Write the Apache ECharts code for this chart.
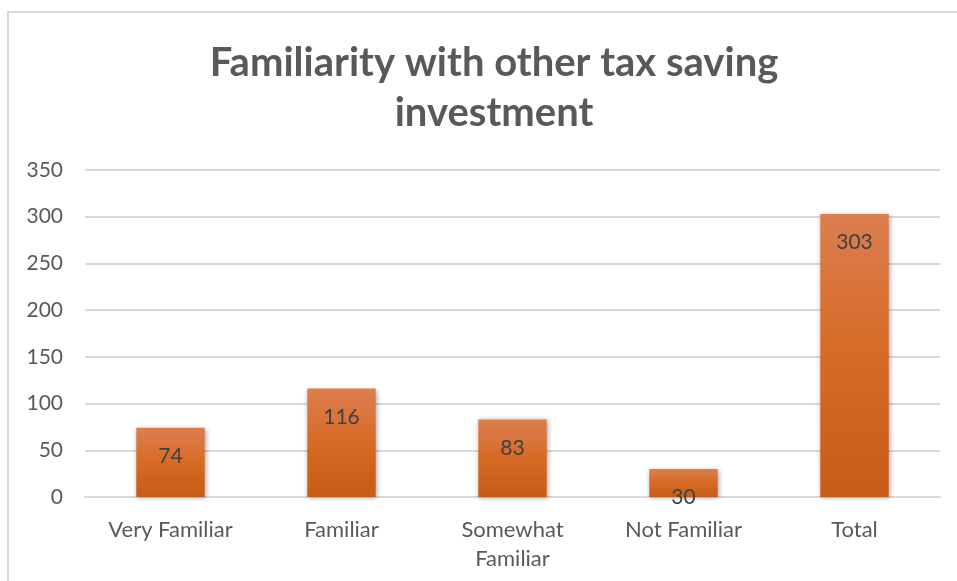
<!DOCTYPE html>
<html>
<head>
<meta charset="utf-8">
<script src="https://cdn.jsdelivr.net/npm/echarts@6/dist/echarts.min.js"></script>
<style>
  html, body { margin: 0; padding: 0; background: #fff; }
  #chart { width: 957px; height: 581px; }
</style>
</head>
<body>
<div id="chart"></div>
<script>
var categories = ['Very Familiar', 'Familiar', 'Somewhat\nFamiliar', 'Not Familiar', 'Total'];
var counts = [74, 116, 83, 30, 303];
var yTicks = [0, 50, 100, 150, 200, 250, 300, 350];

var chart = echarts.init(document.getElementById('chart'));
var fontName = 'Lato, "Open Sans", sans-serif';

var barColor = new echarts.graphic.LinearGradient(0, 0, 0, 1, [
    { offset: 0, color: '#DB7E51' },
    { offset: 0.5, color: '#D76A25' },
    { offset: 1, color: '#C65C15' }
]);

chart.setOption({
    animation: false,
    backgroundColor: '#fff',
    title: {
        text: 'Familiarity with other tax saving\ninvestment',
        left: 489,
        textAlign: 'center',
        top: 33,
        textStyle: {
            fontFamily: fontName,
            fontSize: 40,
            fontWeight: 'bold',
            color: '#595959',
            lineHeight: 50
        }
    },
    graphic: [{
        type: 'rect',
        shape: { x: 8, y: 12, width: 980, height: 620 },
        style: { fill: 'none', stroke: '#d9d9d9', lineWidth: 2 },
        silent: true
    }],
    grid: { left: 85, right: 17, top: 170, bottom: 84 },
    xAxis: {
        type: 'category',
        data: categories,
        axisLine: { lineStyle: { color: '#d9d9d9', width: 2 } },
        axisTick: { show: false },
        axisLabel: {
            color: '#595959',
            fontFamily: fontName,
            fontSize: 22,
            lineHeight: 29,
            margin: 18
        }
    },
    yAxis: {
        type: 'value',
        min: yTicks[0],
        max: yTicks[yTicks.length - 1],
        interval: 50,
        axisLine: { show: false },
        axisTick: { show: false },
        splitLine: { lineStyle: { color: '#d9d9d9', width: 2 } },
        axisLabel: {
            color: '#595959',
            fontFamily: fontName,
            fontSize: 21,
            margin: 22
        }
    },
    series: [{
        type: 'bar',
        data: counts,
        barWidth: '40%',
        itemStyle: {
            color: barColor,
            shadowBlur: 5,
            shadowColor: 'rgba(0,0,0,0.35)',
            shadowOffsetX: 1,
            shadowOffsetY: 1
        },
        label: {
            show: true,
            position: 'insideTop',
            distance: 18,
            color: '#404040',
            fontFamily: fontName,
            fontSize: 21
        }
    }]
});
</script>
</body>
</html>
